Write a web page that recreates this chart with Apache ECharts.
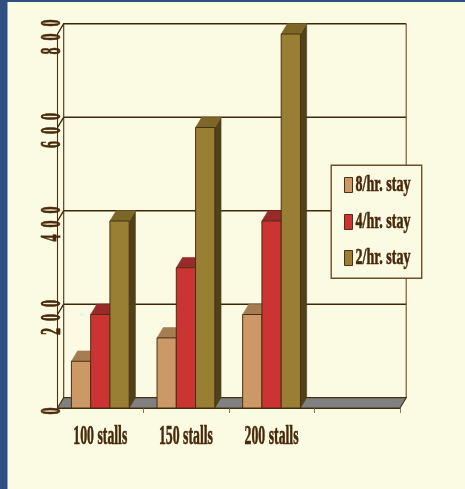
<!DOCTYPE html>
<html>
<head>
<meta charset="utf-8">
<style>html,body{margin:0;padding:0;background:#FBFBE3}#chart{width:465px;height:489px}</style>
<script src="https://cdn.jsdelivr.net/npm/echarts@6/dist/echarts.min.js"></script>
</head>
<body>
<div id="chart"></div>
<script>
// Parking revenue by lot size and length of stay
const categories = ['100 stalls', '150 stalls', '200 stalls', ''];
const seriesNames = ['8/hr. stay', '4/hr. stay', '2/hr. stay'];
const eightHour = [100, 150, 200];
const fourHour = [200, 300, 400];
const twoHour = [400, 600, 800];
const tickValues = [0, 200, 400, 600, 800];

const faceColors = [
  { front: '#CC9966', top: '#A67C52', side: '#7A5A38' },
  { front: '#CC3333', top: '#992A2A', side: '#6E1F1F' },
  { front: '#997F33', top: '#7D6728', side: '#4F411A' }
];
const paper = '#FBFBE3';
const ink = '#47280A';
const rule = '#4A2F12';
const DX = 6.2, DY = -10.3;
const SERIF = '"Liberation Serif"';

function bandLeft(api, index) {
  return api.coord([index, 0])[0] - api.size([1, 0])[0] / 2;
}

// Back wall rules with the slanted return to the front axis
function renderWall(params, api) {
  const v = api.value(0);
  const y = api.coord([0, v])[1];
  const x0 = bandLeft(api, 0);
  const x1 = bandLeft(api, categories.length);
  const isFloor = v === 0;
  return {
    type: 'polyline',
    shape: { points: [[x0, y], [x0 + DX, y + DY], [x1 + DX, y + DY]] },
    style: { stroke: '#3F2608', lineWidth: 1.4, fill: null, opacity: isFloor ? 0 : 1 }
  };
}

// Grey floor plus the two vertical edges of the back wall
function renderFloor(params, api) {
  const x0 = bandLeft(api, 0);
  const x1 = bandLeft(api, categories.length);
  const yb = api.coord([0, 0])[1];
  const yt = api.coord([0, tickValues[tickValues.length - 1]])[1];
  return {
    type: 'group',
    children: [
      { type: 'line', shape: { x1: x0 + DX, y1: yt + DY, x2: x0 + DX, y2: yb + DY }, style: { stroke: rule, lineWidth: 1.1 } },
      { type: 'line', shape: { x1: x1 + DX, y1: yt + DY, x2: x1 + DX, y2: yb + DY }, style: { stroke: '#6B4E2E', lineWidth: 1.1 } },
      {
        type: 'polygon',
        shape: { points: [[x0, yb], [x0 + DX, yb + DY], [x1 + DX, yb + DY], [x1, yb]] },
        style: { fill: '#808080', stroke: '#4A2F12', lineWidth: 1.2 }
      }
    ]
  };
}

// One extruded bar: front, top and right-hand faces
function barRenderer(slot) {
  return function (params, api) {
    const band = api.size([1, 0])[0];
    const w = band * 0.225;
    const cx = api.coord([api.value(0), 0])[0];
    const x = cx - w * 1.5 + slot * w;
    const y0 = api.coord([0, 0])[1];
    const y = api.coord([0, api.value(1)])[1];
    const c = faceColors[slot];
    const edge = { stroke: '#4A2F12', lineWidth: 1 };
    return {
      type: 'group',
      children: [
        { type: 'polygon', shape: { points: [[x + w, y], [x + w + DX, y + DY], [x + w + DX, y0 + DY], [x + w, y0]] }, style: { fill: c.side, stroke: c.side, lineWidth: 0.6 } },
        { type: 'polygon', shape: { points: [[x, y], [x + DX, y + DY], [x + w + DX, y + DY], [x + w, y]] }, style: { fill: c.top, stroke: c.top, lineWidth: 0.6 } },
        { type: 'rect', shape: { x: x, y: y, width: w, height: y0 - y }, style: Object.assign({ fill: c.front }, edge) }
      ]
    };
  };
}

// Tall condensed value labels running up the axis
function renderTickLabel(params, api) {
  const v = api.value(0);
  const y = api.coord([0, v])[1];
  return {
    type: 'text',
    x: bandLeft(api, 0) - 5,
    y: y + 3,
    rotation: Math.PI / 2,
    scaleX: 0.5,
    scaleY: 1.03,
    style: {
      text: String(v).split('').join('\u2002'),
      font: 'bold 28px ' + SERIF,
      fill: ink,
      stroke: ink,
      lineWidth: 0.7,
      align: 'center',
      verticalAlign: 'middle'
    }
  };
}

function renderCategoryLabel(params, api) {
  const i = api.value(0);
  return {
    type: 'text',
    x: api.coord([i, 0])[0],
    y: api.coord([0, 0])[1] + 29,
    scaleX: 0.51,
    style: {
      text: categories[i],
      font: 'bold 27px ' + SERIF,
      fill: ink,
      stroke: ink,
      lineWidth: 0.6,
      align: 'center',
      verticalAlign: 'middle'
    }
  };
}

// Legend box with swatches and condensed labels
const legendItems = seriesNames.flatMap((name, i) => {
  const cy = [185, 222, 258][i];
  return [
    { type: 'rect', left: 344, top: cy - 8, shape: { width: 8, height: 15 }, style: { fill: faceColors[i].front, stroke: '#4A2F12', lineWidth: 1 }, z: 20 },
    { type: 'text', x: 383, y: cy, scaleX: 0.61, style: { text: name, font: 'bold 23px ' + SERIF, fill: ink, stroke: ink, lineWidth: 0.6, align: 'center', verticalAlign: 'middle' }, z: 20 }
  ];
});

const chart = echarts.init(document.getElementById('chart'), null, { renderer: 'canvas' });
chart.setOption({
  animation: false,
  backgroundColor: paper,
  grid: { left: 57.5, right: 65, top: 34, bottom: 81 },
  xAxis: {
    type: 'category',
    data: categories,
    axisLine: { show: true, onZero: false, lineStyle: { color: '#3F2608', width: 1.2 } },
    axisTick: { show: true, alignWithLabel: false, length: 5, lineStyle: { color: '#8A7A60', width: 1 } },
    axisLabel: { show: false }
  },
  yAxis: {
    type: 'value',
    min: 0,
    max: 800,
    interval: 200,
    axisLine: { show: true, lineStyle: { color: rule, width: 1.1 } },
    axisTick: { show: false },
    axisLabel: { show: false },
    splitLine: { show: false }
  },
  graphic: [
    { type: 'rect', left: 0, top: 0, shape: { width: 465, height: 2 }, style: { fill: '#2F4F80' }, z: 1 },
    { type: 'rect', left: 0, top: 0, shape: { width: 7.5, height: 489 }, style: { fill: '#2F4F80' }, z: 1 },
    { type: 'rect', left: 330.5, top: 164.5, shape: { width: 90.5, height: 113 }, style: { fill: paper, stroke: '#6B4E2E', lineWidth: 1.4 }, z: 19 }
  ].concat(legendItems),
  series: [
    { type: 'custom', name: 'wall', silent: true, renderItem: renderWall, data: tickValues.map(v => [v]), z: 2 },
    { type: 'custom', name: 'floor', silent: true, renderItem: renderFloor, data: [[0]], z: 3 },
    { type: 'custom', name: seriesNames[0], renderItem: barRenderer(0), data: eightHour.map((v, i) => [i, v]), encode: { x: 0, y: 1 }, z: 4 },
    { type: 'custom', name: seriesNames[1], renderItem: barRenderer(1), data: fourHour.map((v, i) => [i, v]), encode: { x: 0, y: 1 }, z: 5 },
    { type: 'custom', name: seriesNames[2], renderItem: barRenderer(2), data: twoHour.map((v, i) => [i, v]), encode: { x: 0, y: 1 }, z: 6 },
    { type: 'custom', name: 'tick labels', silent: true, renderItem: renderTickLabel, data: tickValues.map(v => [v]), z: 7 },
    { type: 'custom', name: 'category labels', silent: true, renderItem: renderCategoryLabel, data: categories.slice(0, 3).map((c, i) => [i]), z: 7 }
  ]
});
</script>
</body>
</html>
